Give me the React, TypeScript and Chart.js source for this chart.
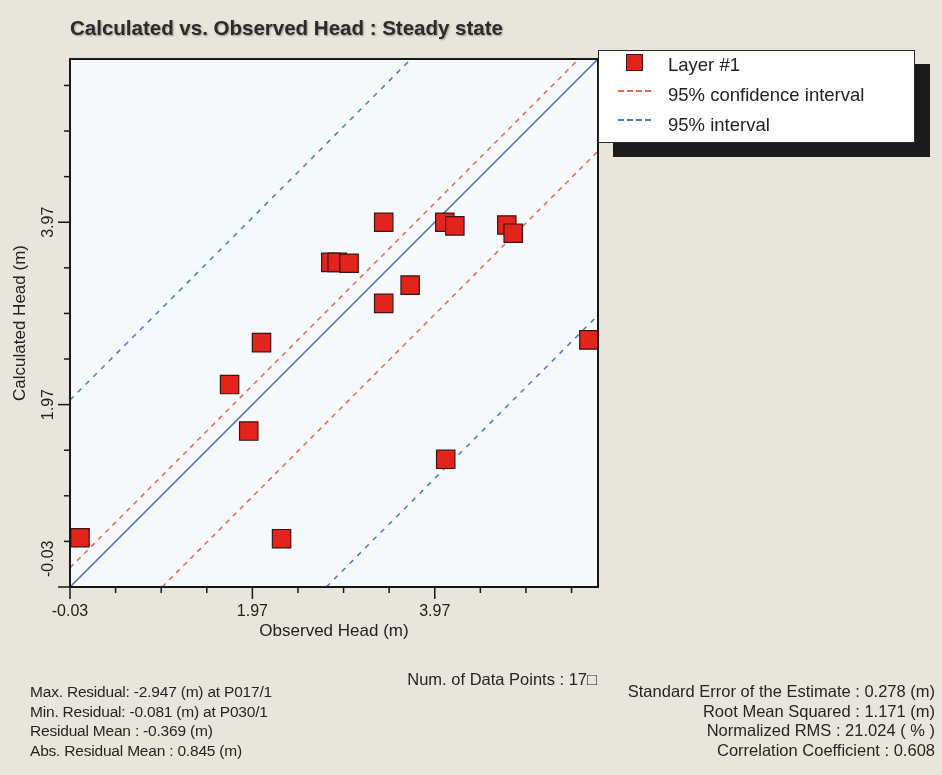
import React, { useEffect, useRef } from "react";
import { Chart, registerables } from "chart.js";

Chart.register(...registerables);

// Observed vs calculated head at each observation well (m)
const observedHead = [0.08, 1.72, 1.93, 2.07, 2.29, 2.83, 2.9, 3.03, 3.41, 3.41, 3.7, 4.08, 4.19, 4.76, 4.83, 5.66, 4.09];
const calculatedHead = [0.51, 2.19, 1.68, 2.65, 0.5, 3.53, 3.53, 3.52, 3.97, 3.08, 3.28, 3.97, 3.93, 3.94, 3.85, 2.68, 1.37];

// Axis extent and tick marks (same for both axes)
const axisMin = -0.03;
const axisMax = 5.76;
const tickValues = [-0.03, 0.47, 0.97, 1.47, 1.97, 2.47, 2.97, 3.47, 3.97, 4.47, 4.97, 5.47];
const labeledTicks = [-0.03, 1.97, 3.97];
const tickLabels = ["-0.03", "1.97", "3.97"];

// Reference lines, given by their end points
const perfectFitX = [-0.03, 5.76];
const perfectFitY = [-0.03, 5.76];
const confUpperX = [-0.03, 5.55];
const confUpperY = [0.18, 5.76];
const confLowerX = [0.98, 5.76];
const confLowerY = [-0.03, 4.75];
const predUpperX = [-0.03, 3.71];
const predUpperY = [2.02, 5.76];
const predLowerX = [2.78, 5.76];
const predLowerY = [-0.03, 2.95];

const seriesNames = ["Layer #1", "95% confidence interval", "95% interval"];

const pointCountText = "Num. of Data Points : 17\u25A1";
const statsLeft = [
  "Max. Residual: -2.947 (m) at P017/1",
  "Min. Residual: -0.081 (m) at P030/1",
  "Residual Mean : -0.369 (m)",
  "Abs. Residual Mean : 0.845 (m)",
];
const statsRight = [
  "Standard Error of the Estimate : 0.278 (m)",
  "Root Mean Squared : 1.171 (m)",
  "Normalized RMS : 21.024 ( % )",
  "Correlation Coefficient : 0.608",
];

const FONT = "'Liberation Sans', Arial, Helvetica, sans-serif";
const PAGE_BG = "#e8e6dc";
const PLOT_BG = "#f6f9fc";
const MARKER_RED = "#e2241c";
const CONF_RED = "#e8664c";
const PRED_BLUE = "#4a78b8";
const FIT_BLUE = "#3d6dbd";

const toPoints = (xs: number[], ys: number[]) => xs.map((x, i) => ({ x, y: ys[i] }));

const plotFrame = {
  id: "plotFrame",
  beforeDraw(chart: any) {
    const { ctx, chartArea: a } = chart;
    ctx.save();
    ctx.fillStyle = PLOT_BG;
    ctx.fillRect(a.left, a.top, a.right - a.left, a.bottom - a.top);
    ctx.restore();
  },
  afterDraw(chart: any) {
    const { ctx, chartArea: a, scales } = chart;
    ctx.save();
    ctx.strokeStyle = "#161616";
    ctx.lineWidth = 2;
    ctx.strokeRect(a.left, a.top, a.right - a.left, a.bottom - a.top);

    ctx.lineWidth = 1.5;
    for (const v of tickValues) {
      const len = labeledTicks.includes(v) ? 12 : 6;
      const px = scales.x.getPixelForValue(v);
      ctx.beginPath();
      ctx.moveTo(px, a.bottom);
      ctx.lineTo(px, a.bottom + len);
      ctx.stroke();
      const py = scales.y.getPixelForValue(v);
      ctx.beginPath();
      ctx.moveTo(a.left, py);
      ctx.lineTo(a.left - len, py);
      ctx.stroke();
    }

    // vertical-axis labels, rotated and kept above the lower axis
    ctx.font = `16px ${FONT}`;
    ctx.fillStyle = "#222";
    ctx.textAlign = "center";
    ctx.textBaseline = "middle";
    labeledTicks.forEach((v, i) => {
      const w = ctx.measureText(tickLabels[i]).width;
      const py = Math.min(scales.y.getPixelForValue(v), a.bottom - 10 - w / 2);
      ctx.save();
      ctx.translate(a.left - 21, py);
      ctx.rotate(-Math.PI / 2);
      ctx.fillText(tickLabels[i], 0, 0);
      ctx.restore();
    });
    ctx.restore();
  },
};

export default function App() {
  const canvasRef = useRef<HTMLCanvasElement>(null);

  useEffect(() => {
    const canvas = canvasRef.current;
    if (!canvas) return;
    const lineSet = (label: string, xs: number[], ys: number[], color: string, dash: number[]) => ({
      label,
      data: toPoints(xs, ys),
      showLine: true,
      borderColor: color,
      borderWidth: 1.5,
      borderDash: dash,
      pointRadius: 0,
      pointHoverRadius: 0,
      fill: false,
    });
    const chart = new Chart(canvas, {
      type: "scatter",
      data: {
        datasets: [
          {
            label: seriesNames[0],
            data: toPoints(observedHead, calculatedHead),
            pointStyle: "rect",
            pointRadius: 13,
            pointHoverRadius: 13,
            backgroundColor: MARKER_RED,
            borderColor: "#3a1512",
            borderWidth: 1.2,
          },
          lineSet("1:1", perfectFitX, perfectFitY, FIT_BLUE, []),
          lineSet(seriesNames[1], confUpperX, confUpperY, CONF_RED, [5, 5]),
          lineSet(seriesNames[1], confLowerX, confLowerY, CONF_RED, [5, 5]),
          lineSet(seriesNames[2], predUpperX, predUpperY, PRED_BLUE, [5, 6]),
          lineSet(seriesNames[2], predLowerX, predLowerY, PRED_BLUE, [5, 6]),
        ],
      },
      options: {
        animation: false,
        responsive: false,
        maintainAspectRatio: false,
        events: [],
        layout: { padding: { left: 0, top: 59, right: 344, bottom: 128 } },
        plugins: {
          legend: { display: false },
          tooltip: { enabled: false },
          title: { display: false },
        },
        scales: {
          x: {
            type: "linear",
            min: axisMin,
            max: axisMax,
            afterBuildTicks: (scale: any) => {
              scale.ticks = tickValues.map((value) => ({ value }));
            },
            afterFit: (scale: any) => {
              scale.height = 60;
            },
            grid: { display: false, drawTicks: false },
            border: { display: false },
            ticks: {
              autoSkip: false,
              maxRotation: 0,
              padding: 15,
              color: "#222",
              font: { family: FONT, size: 16 },
              callback: (value: any) => {
                const idx = labeledTicks.indexOf(Number(value));
                return idx >= 0 ? tickLabels[idx] : "";
              },
            },
            title: {
              display: true,
              text: "Observed Head (m)",
              color: "#222",
              font: { family: FONT, size: 17 },
              padding: { top: 0, bottom: 5 },
            },
          },
          y: {
            type: "linear",
            min: axisMin,
            max: axisMax,
            afterBuildTicks: (scale: any) => {
              scale.ticks = tickValues.map((value) => ({ value }));
            },
            afterFit: (scale: any) => {
              scale.width = 70;
            },
            grid: { display: false, drawTicks: false },
            border: { display: false },
            ticks: { display: false },
            title: {
              display: true,
              text: "Calculated Head (m)",
              color: "#222",
              font: { family: FONT, size: 17 },
              padding: { top: 10, bottom: 0 },
            },
          },
        },
      },
      plugins: [plotFrame],
    } as any);
    return () => chart.destroy();
  }, []);

  const statStyle: React.CSSProperties = {
    position: "absolute",
    fontSize: 16,
    lineHeight: "19px",
    color: "#252525",
    whiteSpace: "nowrap",
  };

  return (
    <div
      style={{
        position: "absolute",
        left: 0,
        top: 0,
        width: 942,
        height: 775,
        background: PAGE_BG,
        overflow: "hidden",
        fontFamily: FONT,
      }}
    >
      <canvas ref={canvasRef} width={942} height={775} style={{ position: "absolute", left: 0, top: 0 }} />

      <div
        style={{
          position: "absolute",
          left: 70,
          top: 16,
          fontSize: 20.5,
          fontWeight: "bold",
          color: "#2b2b2b",
          textShadow: "1px 1px 2px rgba(0,0,0,0.35)",
          whiteSpace: "nowrap",
        }}
      >
        Calculated vs. Observed Head : Steady state
      </div>

      {/* legend box with drop shadow */}
      <div
        style={{
          position: "absolute",
          left: 598,
          top: 50,
          width: 315,
          height: 91,
          background: "#fdfdfd",
          border: "1.5px solid #2a2a2a",
          boxShadow: "15px 14px 0 #1b1b1b",
        }}
      >
        <div style={{ position: "absolute", left: 27, top: 3, width: 15, height: 15, background: MARKER_RED, border: "1px solid #3a1512" }} />
        <div style={{ position: "absolute", left: 19, top: 39, width: 33, borderTop: `2px dashed ${CONF_RED}` }} />
        <div style={{ position: "absolute", left: 19, top: 68, width: 33, borderTop: `2px dashed ${PRED_BLUE}` }} />
        {seriesNames.map((name, i) => (
          <div
            key={name}
            style={{ position: "absolute", left: 69, top: 3 + i * 30, fontSize: 18.5, lineHeight: "22px", color: "#222", whiteSpace: "nowrap" }}
          >
            {name}
          </div>
        ))}
      </div>

      <div style={{ ...statStyle, fontSize: 16.5, right: 942 - 597, top: 670 }}>{pointCountText}</div>
      {statsLeft.map((s, i) => (
        <div key={s} style={{ ...statStyle, fontSize: 15.5, left: 30, top: 682 + i * 19.5, letterSpacing: -0.2 }}>
          {s}
        </div>
      ))}
      {statsRight.map((s, i) => (
        <div key={s} style={{ ...statStyle, fontSize: 16.5, right: 7, top: 682 + i * 19.5, textAlign: "right" }}>
          {s}
        </div>
      ))}
    </div>
  );
}
